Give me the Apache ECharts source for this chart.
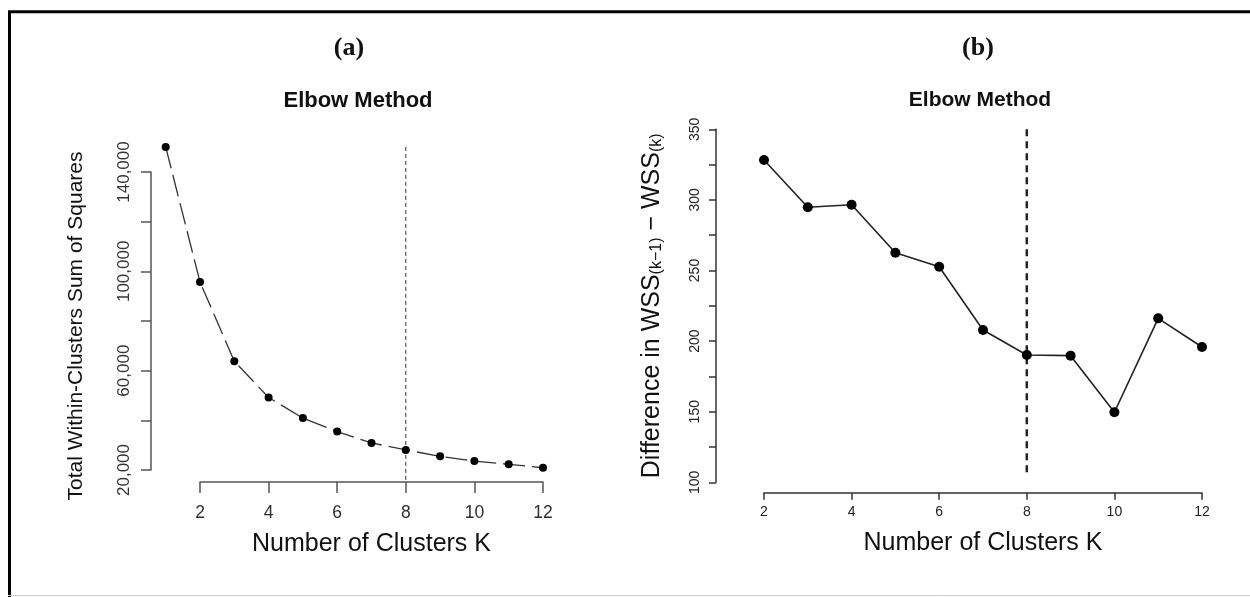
<!DOCTYPE html>
<html>
<head>
<meta charset="utf-8">
<title>Elbow Method</title>
<script src="https://cdn.jsdelivr.net/npm/echarts@6/dist/echarts.min.js"></script>
<style>
  html, body { margin: 0; padding: 0; background: #fff; }
  #chart { width: 1250px; height: 597px; }
</style>
</head>
<body>
<div id="chart"></div>
<script>
// panel (a): total within-cluster sum of squares per K
const kValuesA = [1, 2, 3, 4, 5, 6, 7, 8, 9, 10, 11, 12];
const wssTotals = [150100, 95700, 63800, 49200, 40900, 35500, 30900, 28100, 25500, 23600, 22300, 20900];

// panel (b): WSS(k-1) - WSS(k)
const kValuesB = [2, 3, 4, 5, 6, 7, 8, 9, 10, 11, 12];
const wssDiffs = [328.3, 294.8, 296.6, 262.6, 252.7, 207.9, 190.2, 189.7, 149.6, 216.1, 195.8];

// chosen K and the extent of the dashed reference lines
const chosenK = 8;
const refSpanA = [150100, 15200];
const refSpanB = [350, 106];

// labelled ticks (the rest are drawn without text)
const yLabelsA = [20000, 60000, 100000, 140000];
const yLabelsB = [100, 150, 200, 250, 300, 350];

const SANS = '"Liberation Sans", Arial, Helvetica, sans-serif';
const SERIF = '"Liberation Serif", "Times New Roman", serif';

const chart = echarts.init(document.getElementById("chart"), null, { renderer: "canvas" });

// R draws the axes only over the tick range, so panel (a) gets one grid
// for the visible axes and a wider hidden grid (same scale) for the data
const axisGridA = { left: 200, top: 172, width: 343, height: 298 };
const xRangeA = [2, 12];
const yRangeA = [20000, 140000];
const dataXA = [Math.min(...kValuesA), Math.max(...kValuesA)];
const dataYA = [Math.min(...refSpanA, ...wssTotals), Math.max(...refSpanA, ...wssTotals)];

function widenGrid(g, xr, yr, dx, dy) {
  const sx = g.width / (xr[1] - xr[0]);
  const sy = g.height / (yr[1] - yr[0]);
  const left = g.left - (xr[0] - dx[0]) * sx;
  const right = g.left + g.width + (dx[1] - xr[1]) * sx;
  const top = g.top - (dy[1] - yr[1]) * sy;
  const bottom = g.top + g.height + (yr[0] - dy[0]) * sy;
  return { left, top, width: right - left, height: bottom - top };
}

function textEl(text, x, y, font, fill = "#111") {
  return {
    type: "text",
    x,
    y,
    style: {
      text,
      font,
      fill,
      textAlign: "center",
      textVerticalAlign: "middle",
      align: "center",
      verticalAlign: "middle"
    }
  };
}

function borderLine(x1, y1, x2, y2, stroke, lineWidth) {
  return { type: "line", shape: { x1, y1, x2, y2 }, style: { stroke, lineWidth }, silent: true };
}

const axisA = { lineStyle: { color: "#555", width: 1.5 } };
const axisB = { lineStyle: { color: "#333", width: 1.5 } };

const option = {
  animation: false,
  backgroundColor: "#fff",
  graphic: [
    borderLine(9.5, 11, 9.5, 597, "#000", 3),
    borderLine(8, 11.8, 1250, 11.8, "#000", 3),
    borderLine(8, 595.5, 1250, 595.5, "#ccc", 1),
    textEl("(a)", 349, 48, "bold 26px " + SERIF),
    textEl("(b)", 978, 48, "bold 26px " + SERIF),
    textEl("Elbow Method", 358, 101, "bold 22px " + SANS),
    textEl("Elbow Method", 980, 100, "bold 21px " + SANS)
  ],
  grid: [
    axisGridA,
    { left: 764, top: 129.3, width: 438, height: 353 },
    widenGrid(axisGridA, xRangeA, yRangeA, dataXA, dataYA)
  ],
  xAxis: [
    {
      gridIndex: 0,
      type: "value",
      min: xRangeA[0],
      max: xRangeA[1],
      interval: 2,
      offset: 12,
      axisLine: axisA,
      axisTick: { length: 11, lineStyle: { color: "#555", width: 1.5 } },
      axisLabel: { margin: 22, fontFamily: SANS, fontSize: 17.5, color: "#2d2d3a" },
      splitLine: { show: false },
      name: "Number of Clusters K",
      nameLocation: "middle",
      nameGap: 50,
      nameTextStyle: { fontFamily: SANS, fontSize: 25, color: "#111" }
    },
    {
      gridIndex: 1,
      type: "value",
      min: 2,
      max: 12,
      interval: 2,
      offset: 10.4,
      axisLine: axisB,
      axisTick: { length: 7, lineStyle: { color: "#333", width: 1.5 } },
      axisLabel: { margin: 12.6, fontFamily: SANS, fontSize: 14, color: "#222" },
      splitLine: { show: false },
      name: "Number of Clusters K",
      nameLocation: "middle",
      nameGap: 37.5,
      nameTextStyle: { fontFamily: SANS, fontSize: 25, color: "#111" }
    },
    { gridIndex: 2, type: "value", min: dataXA[0], max: dataXA[1], show: false }
  ],
  yAxis: [
    {
      gridIndex: 0,
      type: "value",
      min: yRangeA[0],
      max: yRangeA[1],
      interval: 20000,
      offset: 49,
      axisLine: { show: true, ...axisA },
      axisTick: { show: true, length: 10, lineStyle: { color: "#555", width: 1.5 } },
      axisLabel: {
        rotate: 90,
        margin: 18,
        fontFamily: SANS,
        fontSize: 17,
        color: "#333",
        formatter: (v) => (yLabelsA.includes(v) ? v.toLocaleString("en-US") : "")
      },
      splitLine: { show: false },
      name: "Total Within-Clusters Sum of Squares",
      nameLocation: "middle",
      nameGap: 64,
      nameTextStyle: { fontFamily: SANS, fontSize: 21, color: "#111", padding: [0, 10, 0, 0] }
    },
    {
      gridIndex: 1,
      type: "value",
      min: 100,
      max: 350,
      interval: 25,
      offset: 48,
      axisLine: { show: true, ...axisB },
      axisTick: { show: true, length: 7, lineStyle: { color: "#333", width: 1.5 } },
      axisLabel: {
        rotate: 90,
        margin: 13.5,
        fontFamily: SANS,
        fontSize: 14,
        color: "#222",
        formatter: (v) => (yLabelsB.includes(v) ? String(v) : "")
      },
      splitLine: { show: false },
      name: "{n|Difference in WSS}{s|(k\u22121)}{n| \u2212 WSS}{s|(k)}",
      nameLocation: "middle",
      nameGap: 51.8,
      nameTextStyle: {
        rich: {
          n: { fontFamily: SANS, fontSize: 25, color: "#111" },
          s: { fontFamily: SANS, fontSize: 16, color: "#111", verticalAlign: "bottom" }
        }
      }
    },
    { gridIndex: 2, type: "value", min: dataYA[0], max: dataYA[1], show: false }
  ],
  series: [
    {
      name: "WSS",
      type: "line",
      xAxisIndex: 2,
      yAxisIndex: 2,
      clip: false,
      data: kValuesA.map((k, i) => [k, wssTotals[i]]),
      symbol: "circle",
      symbolSize: 8,
      itemStyle: { color: "#000" },
      lineStyle: { color: "#333", width: 1.3, type: [22, 7] },
      z: 3
    },
    {
      name: "chosen K (a)",
      type: "line",
      xAxisIndex: 2,
      yAxisIndex: 2,
      clip: false,
      data: refSpanA.map((v) => [chosenK, v]),
      symbol: "none",
      lineStyle: { color: "#333", width: 1, type: [4, 3] },
      z: 2
    },
    {
      name: "WSS difference",
      type: "line",
      xAxisIndex: 1,
      yAxisIndex: 1,
      clip: true,
      data: kValuesB.map((k, i) => [k, wssDiffs[i]]),
      symbol: "circle",
      symbolSize: 10,
      itemStyle: { color: "#000" },
      lineStyle: { color: "#222", width: 1.6 },
      z: 3
    },
    {
      name: "chosen K (b)",
      type: "line",
      xAxisIndex: 1,
      yAxisIndex: 1,
      clip: true,
      data: refSpanB.map((v) => [chosenK, v]),
      symbol: "none",
      lineStyle: { color: "#222", width: 2.5, type: [7, 5] },
      z: 2
    }
  ]
};

chart.setOption(option);
</script>
</body>
</html>
